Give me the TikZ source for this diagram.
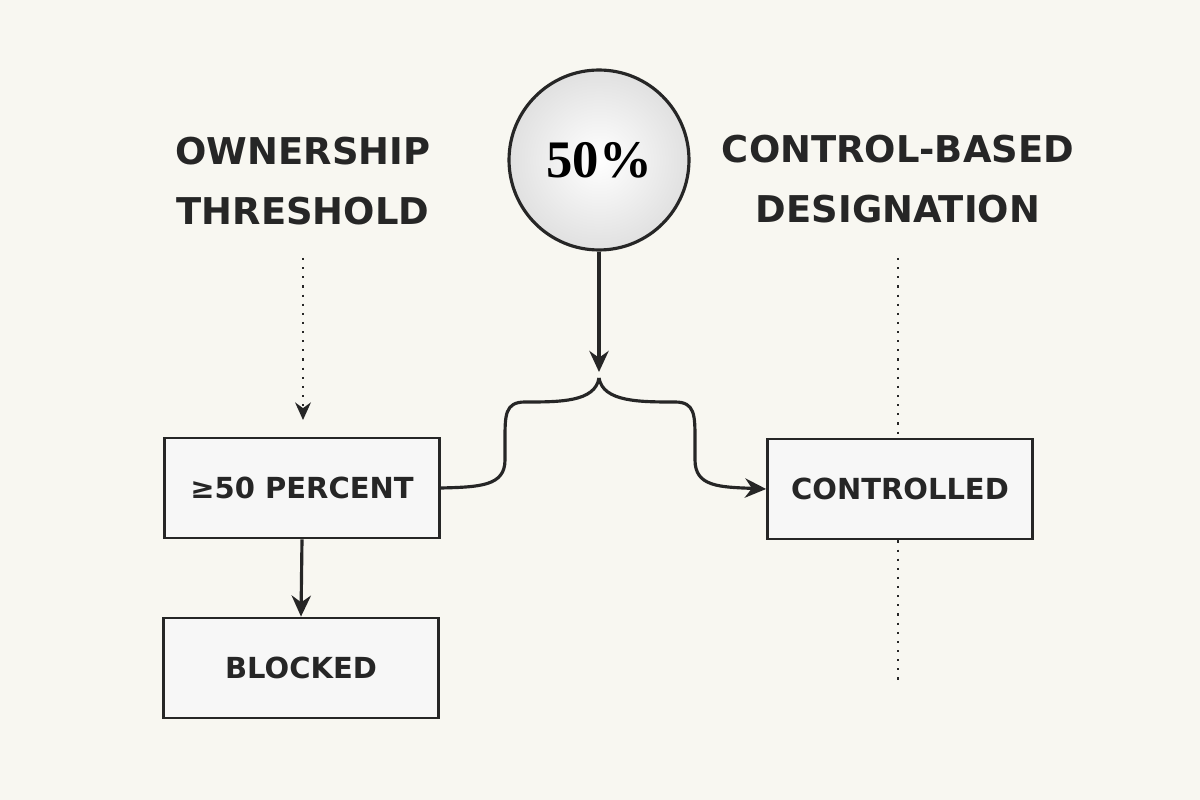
\documentclass[tikz,border=0pt]{standalone}
\usepackage{fontspec}
\setmainfont{DejaVu Sans}
\newfontfamily\serifnum{Liberation Serif}
\usetikzlibrary{arrows.meta,calc}
\definecolor{bg}{HTML}{F8F7F1}
\begin{document}
\begin{tikzpicture}[x=0.02cm,y=-0.02cm,
  lbl/.style={font=\bfseries\fontsize{21}{34}\selectfont, text=black!85, align=center},
  box/.style={draw=black!85, line width=1.6pt, fill=black!3, minimum width=5.5cm, minimum height=2cm, font=\bfseries\fontsize{16.5}{22}\selectfont, text=black!85},
  con/.style={draw=black!85, line width=1.8pt},
  arr/.style={con, -{Stealth[length=12pt,width=11pt]}},
  dot/.style={draw=black!85, line width=1pt, dash pattern=on 1.2pt off 4pt}]
\fill[bg] (0,0) rectangle (1200,800);
\useasboundingbox (0,0) rectangle (1200,800);
\node[lbl] (t1) at (303,181) {OWNERSHIP\\THRESHOLD};
\node[lbl] (t2) at (898,179) {CONTROL-BASED\\DESIGNATION};
\node[circle, draw=black!85, line width=1.8pt, inner color=white, outer color=black!12, minimum size=3.6cm, font=\serifnum\bfseries\fontsize{30}{34}\selectfont] (c) at (599,160) {50\%};
\node[box] (b1) at (302,488) {≥50 PERCENT};
\node[box] (b2) at (301,668) {BLOCKED};
\node[box, minimum width=5.3cm] (b3) at (900,489) {CONTROLLED};
\coordinate (d1) at (303,258);
\coordinate (d2) at (303,420);
\draw[dot] (d1) -- (d2);
\draw[-{Stealth[length=10pt,width=9pt]}, draw=black!85, line width=1pt] ($(d2)+(0,-8)$) -- (d2);
\coordinate (r1) at (898,258);
\coordinate (r2) at (898,680);
\draw[dot] (r1) -- (b3.north -| r1);
\draw[dot] (b3.south -| r1) -- (r2);
\draw[arr] (b1.south) -- (b2.north);
\coordinate (j) at (599,378);
\draw[arr] (c.south) -- (599,372);
\draw[con] (j) .. controls (595,402) and (560,402) .. (525,402) .. controls (505,402) and (505,415) .. (505,440) -- (505,460) .. controls (505,486) and (480,487) .. (b1.east);
\draw[arr] (j) .. controls (603,402) and (640,402) .. (675,402) .. controls (695,402) and (695,415) .. (695,440) -- (695,460) .. controls (695,487) and (720,487) .. (b3.west);
\end{tikzpicture}
\end{document}
